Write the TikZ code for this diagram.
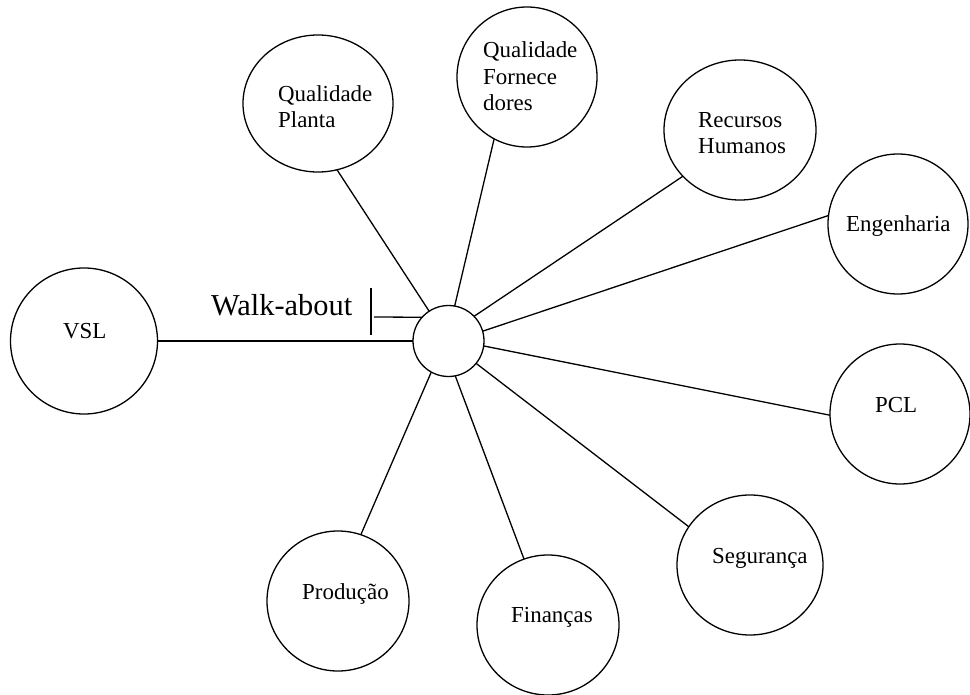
\documentclass[tikz,border=0pt]{standalone}
\usepackage{fontspec}
\setmainfont{Liberation Serif}
\usetikzlibrary{shapes.geometric}

\begin{document}
\begin{tikzpicture}[x=1bp,y=-1bp,
  area/.style={draw, ellipse, line width=1.3bp, inner sep=0pt, outer sep=0pt},
  hubnode/.style={draw, circle, line width=1.3bp, inner sep=0pt, outer sep=0pt,
    minimum size=71bp},
  lbl/.style={anchor=base west, inner sep=0pt, align=left,
    font=\fontsize{23}{27}\selectfont},
  spoke/.style={line width=1.3bp}]

\useasboundingbox (0,0) rectangle (970,695);

% central meeting point
\node[hubnode] (hub) at (448.5,341) {};

% surrounding areas
\node[area, minimum width=147bp, minimum height=146bp] (vsl)  at (84,341)    {};
\node[area, minimum width=150bp, minimum height=137bp] (qp)   at (318,103.5) {};
\node[area, minimum width=140bp, minimum height=140bp] (qf)   at (527,77)    {};
\node[area, minimum width=152bp, minimum height=140bp] (rh)   at (740,130)   {};
\node[area, minimum width=140bp, minimum height=140bp] (eng)  at (898,224)   {};
\node[area, minimum width=140bp, minimum height=140bp] (pcl)  at (900,414)   {};
\node[area, minimum width=146bp, minimum height=140bp] (seg)  at (750,565)   {};
\node[area, minimum width=142bp, minimum height=140bp] (fin)  at (548,625)   {};
\node[area, minimum width=142bp, minimum height=140bp] (prod) at (338,601)   {};

% labels (multi-line labels sit on the baseline of their last line)
\node[lbl] (vslt)  at (63,338)  {VSL};
\node[lbl] (qpt)   at (278,128) {Qualidade\\Planta};
\node[lbl] (qft)   at (483,111) {Qualidade\\Fornece\\dores};
\node[lbl] (rht)   at (698,154) {Recursos\\Humanos};
\node[lbl] (engt)  at (846,231) {Engenharia};
\node[lbl] (pclt)  at (875,412) {PCL};
\node[lbl] (segt)  at (712,563) {Segurança};
\node[lbl] (fint)  at (511,622) {Finanças};
\node[lbl] (prodt) at (302,599) {Produção};
\node[anchor=base west, inner sep=0pt, font=\fontsize{30.5}{34}\selectfont]
  (walk) at (211,315) {Walk-about};

% spokes
\draw[spoke] (hub.180)  -- (vsl.0);
\draw[spoke] (hub.123)  -- (qp.-74);
\draw[spoke] (hub.80)   -- (qf.-118);
\draw[spoke] (hub.44)   -- (rh.219.6);
\draw[spoke] (hub.16)   -- (eng.173.5);
\draw[spoke] (hub.-8)   -- (pcl.181.7);
\draw[spoke] (hub.-39)  -- (seg.148.5);
\draw[spoke] (hub.-79)  -- (fin.110.5);
\draw[spoke] (hub.-119) -- (prod.71.3);

% walk-about marker
\coordinate (bartop) at (371,288);
\coordinate (barbot) at (371,335);
\coordinate (wtip) at (374,317);
\draw[spoke] (bartop) -- (barbot);
\draw[spoke] (wtip) -- (hub.138);

\end{tikzpicture}
\end{document}
